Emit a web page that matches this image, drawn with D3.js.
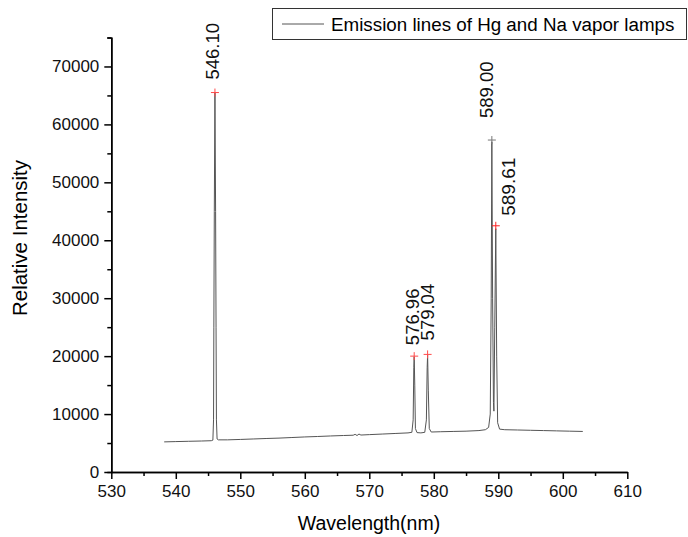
<!DOCTYPE html>
<html>
<head>
<meta charset="utf-8">
<script src="https://cdn.jsdelivr.net/npm/d3@7"></script>
<style>
  body { margin: 0; background: #fff; }
  svg { display: block; font-family: "Liberation Sans", Arial, sans-serif; }
  .axis path, .axis line { stroke: #000; stroke-width: 1.5; }
  .axis text { font-size: 17px; fill: #111; }
</style>
</head>
<body>
<div id="mainbox"></div>
<script>
// spectrum
const wavelength = [538.2, 540, 542, 544, 545.5, 545.75, 545.85, 545.9, 545.97, 546.07, 546.17, 546.24, 546.3, 546.4, 546.6,
  548, 550, 552, 554, 556, 558, 560, 562, 564, 566, 567.5, 567.8, 568.1, 568.4, 568.7, 570, 572, 574, 576,
  576.6, 576.8, 576.9, 576.96, 577.05, 577.15, 577.4, 578, 578.6, 578.85, 578.97, 579.04, 579.15, 579.3, 579.6,
  581, 583, 585, 587, 588, 588.5, 588.75, 588.9, 589.0, 589.12, 589.25, 589.32, 589.45, 589.61, 589.75, 589.9,
  590.2, 591, 593, 595, 597, 599, 601, 603.1];
const intensity = [5200, 5250, 5300, 5350, 5400, 5500, 9000, 25000, 45000, 65500, 45000, 25000, 9000, 5700, 5550,
  5550, 5620, 5700, 5780, 5850, 5950, 6050, 6130, 6220, 6300, 6350, 6500, 6300, 6550, 6380, 6450, 6550, 6650, 6750,
  6850, 9000, 18000, 19900, 15000, 7500, 6800, 6750, 6850, 9000, 18000, 20200, 14000, 7500, 6900,
  6950, 7000, 7050, 7150, 7300, 7700, 10000, 30000, 57000, 30000, 12000, 10500, 25000, 42000, 20000, 8500,
  7400, 7300, 7250, 7200, 7150, 7100, 7050, 7000];

// marked peaks
const peakWl = [546.07, 576.96, 579.04, 589.00, 589.61];
const peakInt = [65500, 20000, 20300, 57300, 42500];
const peakText = ["546.10", "576.96", "579.04", "589.00", "589.61"];
const peakColor = ["#ff4a4a", "#ff4a4a", "#ff4a4a", "#777", "#ff2020"];
// label nudges in px: [dx, gap above marker, font size]
const labelNudge = [[-2, 13, 18.5], [-2, 11, 18.5], [0, 14, 18.5], [-5, 22, 18.5], [13, 10, 19]];

const xTicks = [530, 540, 550, 560, 570, 580, 590, 600, 610];
const xMinor = [535, 545, 555, 565, 575, 585, 595, 605];
const yTicks = [0, 10000, 20000, 30000, 40000, 50000, 60000, 70000];
const yMinor = [5000, 15000, 25000, 35000, 45000, 55000, 65000, 75000];
const legendText = "Emission lines of Hg and Na vapor lamps";

const W = 688, H = 537;
const svg = d3.select('#mainbox').append('svg')
  .attr('width', W).attr('height', H);

const scaleX = d3.scaleLinear().domain([530, 610]).range([111.3, 627.3]);
const scaleY = d3.scaleLinear().domain([0, 75000]).range([472, 37.5]);

// minor ticks first, then major axes on top
svg.append('g').attr('class', 'axis')
  .attr('transform', `translate(0,${scaleY(0)})`)
  .call(d3.axisBottom(scaleX).tickValues(xMinor).tickSize(4).tickSizeOuter(0).tickFormat(''));
svg.append('g').attr('class', 'axis')
  .attr('transform', `translate(${scaleX(530)},0)`)
  .call(d3.axisLeft(scaleY).tickValues(yMinor).tickSize(4).tickSizeOuter(0).tickFormat(''));

const axisX = svg.append('g').attr('class', 'axis axis-x')
  .attr('transform', `translate(0,${scaleY(0)})`)
  .call(d3.axisBottom(scaleX).tickValues(xTicks).tickSize(7).tickSizeOuter(0).tickPadding(6).tickFormat(d3.format('d')));
const axisY = svg.append('g').attr('class', 'axis axis-y')
  .attr('transform', `translate(${scaleX(530)},0)`)
  .call(d3.axisLeft(scaleY).tickValues(yTicks).tickSize(7).tickSizeOuter(4).tickPadding(5).tickFormat(d3.format('d')));

// axis titles
svg.append('text')
  .attr('x', 369).attr('y', 530)
  .attr('text-anchor', 'middle')
  .style('font-size', '19.5px')
  .text('Wavelength(nm)');
svg.append('text')
  .attr('transform', 'translate(27,238) rotate(-90)')
  .attr('text-anchor', 'middle')
  .style('font-size', '20.5px')
  .text('Relative Intensity');

// spectrum
const pts = wavelength.map((w, i) => [w, intensity[i]]);
const line = d3.line().x(d => scaleX(d[0])).y(d => scaleY(d[1]));
svg.append('path')
  .datum(pts)
  .attr('d', line)
  .attr('fill', 'none')
  .attr('stroke', '#555')
  .attr('stroke-width', 1);

// peak markers
const peaks = peakWl.map((w, i) => ({w, v: peakInt[i], t: peakText[i], c: peakColor[i], n: labelNudge[i]}));
const mk = svg.selectAll('.mark').data(peaks).enter().append('g')
  .attr('class', 'mark')
  .attr('transform', d => `translate(${scaleX(d.w)},${scaleY(d.v)})`);
mk.append('line').attr('x1', -4).attr('x2', 4).attr('stroke', d => d.c).attr('stroke-width', 1);
mk.append('line').attr('y1', -4).attr('y2', 4).attr('stroke', d => d.c).attr('stroke-width', 1);

svg.selectAll('.plabel').data(peaks).enter().append('text')
  .attr('class', 'plabel')
  .attr('transform', d => `translate(${scaleX(d.w) + d.n[0]},${scaleY(d.v) - d.n[1]}) rotate(-90)`)
  .attr('dy', '0.35em')
  .style('font-size', d => d.n[2] + 'px')
  .attr('fill', '#111')
  .text(d => d.t);

// legend
const lg = svg.append('g');
lg.append('rect')
  .attr('x', 272.5).attr('y', 8.5).attr('width', 414).attr('height', 31)
  .attr('fill', '#fff').attr('stroke', '#333').attr('stroke-width', 1);
lg.append('line')
  .attr('x1', 282).attr('x2', 324).attr('y1', 24).attr('y2', 24)
  .attr('stroke', '#555').attr('stroke-width', 1);
lg.append('text')
  .attr('x', 331).attr('y', 30.5)
  .style('font-size', '18.8px')
  .text(legendText);
</script>
</body>
</html>
